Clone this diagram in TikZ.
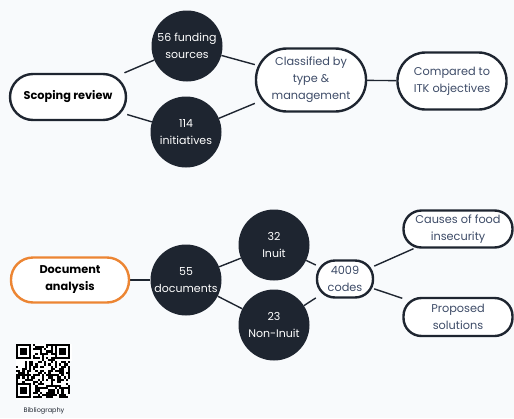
\documentclass[tikz,border=0pt]{standalone}
\usepackage{fontspec}
\setmainfont{Poppins}
\usetikzlibrary{backgrounds}
\definecolor{bgc}{HTML}{F8FAFC}
\definecolor{dark}{HTML}{1E2530}
\definecolor{slate}{HTML}{3E4C68}
\definecolor{orng}{HTML}{EC8533}
\tikzset{
  dot/.style={circle, fill=dark, draw=none, text=white, align=center, inner sep=0pt,
    font=\fontsize{11}{16.5}\selectfont},
  pill/.style={rectangle, draw=dark, line width=2.4pt, fill=white, text=slate, align=center,
    inner sep=0pt, font=\fontsize{11.3}{16.8}\selectfont},
  boldpill/.style={pill, text=black, font=\fontsize{11.3}{17}\selectfont\bfseries},
  link/.style={draw=dark, line width=1.4pt},
}
\begin{document}
\begin{tikzpicture}[x=1pt,y=-1pt]
\useasboundingbox (0,0) rectangle (514,418);

\node[boldpill, minimum width=116pt, minimum height=46pt, rounded corners=23pt] (scoping) at (68,97) {Scoping review};
\node[dot, minimum size=71pt] (f56) at (187,46) {56 funding\\sources};
\node[dot, minimum size=71pt] (i114) at (186,132) {114\\initiatives};
\node[pill, minimum width=110pt, minimum height=63pt, rounded corners=31pt] (classified) at (311,80) {Classified by\\type \&\\management};
\node[pill, minimum width=109pt, minimum height=57pt, rounded corners=28pt] (compared) at (452,81) {Compared to\\ITK objectives};

\node[boldpill, draw=orng, minimum width=118pt, minimum height=45pt, rounded corners=22pt] (docan) at (70,280) {Document\\analysis};
\node[dot, minimum size=71pt] (d55) at (186,280) {55\\documents};
\node[dot, minimum size=71pt] (inuit) at (274,245) {32\\Inuit};
\node[dot, minimum size=71pt] (noninuit) at (274,325) {23\\Non-Inuit};
\node[pill, minimum width=56pt, minimum height=37pt, rounded corners=18pt] (codes) at (345,279) {4009\\codes};
\node[pill, minimum width=109pt, minimum height=37pt, rounded corners=18pt] (causes) at (458,229) {Causes of food\\insecurity};
\node[pill, minimum width=109pt, minimum height=38pt, rounded corners=18pt] (proposed) at (458,317) {Proposed\\solutions};

\begin{scope}[on background layer]
\fill[bgc] (0,0) rectangle (514,418);
\draw[link] (scoping) -- (f56);
\draw[link] (scoping) -- (i114);
\draw[link] (f56) -- (classified);
\draw[link] (i114) -- (classified);
\draw[link] (classified) -- (compared);
\draw[link] (docan) -- (d55);
\draw[link] (d55) -- (inuit);
\draw[link] (d55) -- (noninuit);
\draw[link] (inuit) -- (codes);
\draw[link] (noninuit) -- (codes);
\draw[link] (codes) -- (causes);
\draw[link] (codes) -- (proposed);
\end{scope}

% QR code
\node[inner sep=0pt, minimum width=54pt, minimum height=54pt] (qr) at (43,371) {};
\begin{scope}[shift={(16,344)}]
  \fill[white] (0,0) rectangle (54,54);
  \pgfmathsetseed{7}
  \foreach \i in {0,...,24}{
    \foreach \j in {0,...,24}{
      \pgfmathsetmacro{\r}{rnd}
      \ifdim \r pt < 0.5pt
        \fill[black] (\i*2.16,\j*2.16) rectangle ++(2.16,2.16);
      \fi
    }
  }
  \foreach \ox/\oy in {0/0, 38.88/0, 0/38.88}{
    \fill[white] (\ox-0.01,\oy-0.01) rectangle ++(17.3,17.3);
    \fill[black] (\ox,\oy) rectangle ++(15.12,15.12);
    \fill[white] (\ox+2.16,\oy+2.16) rectangle ++(10.8,10.8);
    \fill[black] (\ox+4.32,\oy+4.32) rectangle ++(6.48,6.48);
  }
\end{scope}
\node[font=\fontsize{6.5}{8}\selectfont, text=dark] (bib) at (44,411) {Bibliography};
\end{tikzpicture}
\end{document}
